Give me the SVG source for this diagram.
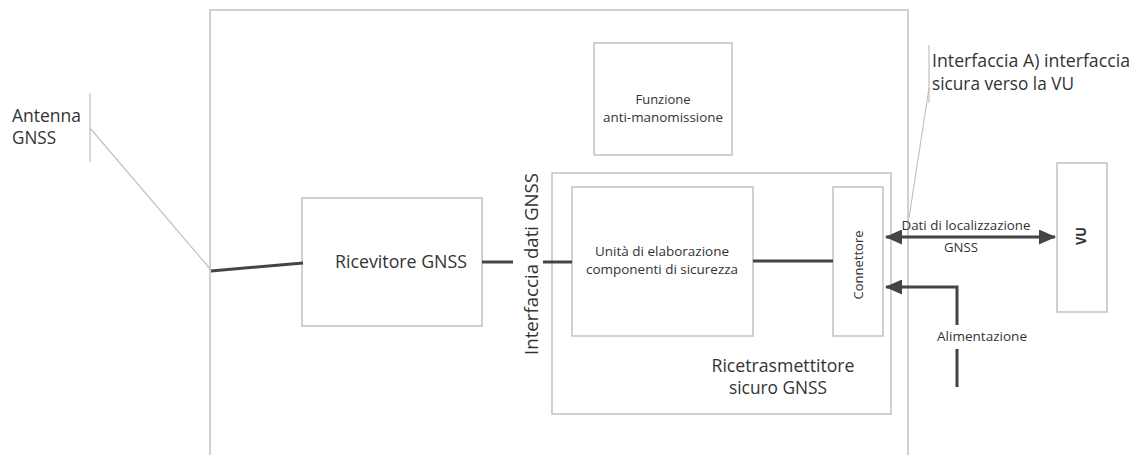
<svg xmlns="http://www.w3.org/2000/svg" width="1140" height="455" viewBox="0 0 1140 455">
<defs>
<style>
.box{fill:#fff;stroke:#c2c2c2;stroke-width:1.5}
.thin{fill:none;stroke:#c2c2c2;stroke-width:1.2}
.wire{fill:none;stroke:#444;stroke-width:3}
text{font-family:"Open Sans","Liberation Sans",sans-serif;fill:#333}
.c{text-anchor:middle}
</style>
<marker id="ah" viewBox="0 0 17 15" refX="16" refY="7.5" markerWidth="17" markerHeight="15" markerUnits="userSpaceOnUse" orient="auto-start-reverse">
<path d="M0,0 L17,7.5 L0,15 z" fill="#444"/>
</marker>
</defs>
<rect width="1140" height="455" fill="#fff"/>

<g id="outer">
<path class="box" d="M210,460 V10 H908 V460"/>
</g>

<g id="antenna">
<line class="thin" x1="90" y1="93" x2="90" y2="162"/>
<text x="12" y="122" font-size="17.5" textLength="69" lengthAdjust="spacingAndGlyphs">Antenna</text>
<text x="12" y="144" font-size="17.5" textLength="44" lengthAdjust="spacingAndGlyphs">GNSS</text>
</g>

<g id="interfaccia-a">
<line class="thin" x1="929" y1="45" x2="929" y2="103"/>
<text x="932" y="67" font-size="17.5" textLength="198" lengthAdjust="spacingAndGlyphs">Interfaccia A) interfaccia</text>
<text x="932" y="90" font-size="17.5" textLength="142" lengthAdjust="spacingAndGlyphs">sicura verso la VU</text>
</g>

<g id="funzione">
<rect class="box" x="594" y="43" width="138" height="112"/>
<text class="c" x="663" y="104" font-size="13.5" textLength="55" lengthAdjust="spacingAndGlyphs">Funzione</text>
<text class="c" x="663" y="122" font-size="13.5" textLength="120" lengthAdjust="spacingAndGlyphs">anti-manomissione</text>
</g>

<g id="ricevitore">
<rect class="box" x="302" y="198" width="180" height="128"/>
<text class="c" x="401" y="268" font-size="18" textLength="132" lengthAdjust="spacingAndGlyphs">Ricevitore GNSS</text>
</g>

<g id="interfaccia-dati">
<text class="c" transform="translate(538,264) rotate(-90)" font-size="18" textLength="182" lengthAdjust="spacingAndGlyphs">Interfaccia dati GNSS</text>
</g>

<g id="ricetrasmettitore">
<rect class="box" x="552" y="173" width="339" height="241"/>
<text class="c" x="783" y="372" font-size="18" textLength="143" lengthAdjust="spacingAndGlyphs">Ricetrasmettitore</text>
<text class="c" x="778" y="394" font-size="18" textLength="98" lengthAdjust="spacingAndGlyphs">sicuro GNSS</text>
</g>

<g id="unita">
<rect class="box" x="572" y="187" width="181" height="149"/>
<text class="c" x="662" y="256" font-size="13.5" textLength="134" lengthAdjust="spacingAndGlyphs">Unità di elaborazione</text>
<text class="c" x="662" y="274" font-size="13.5" textLength="152" lengthAdjust="spacingAndGlyphs">componenti di sicurezza</text>
</g>

<g id="connettore">
<rect class="box" x="833" y="187" width="50" height="149"/>
<text class="c" transform="translate(863,265) rotate(-90)" font-size="13.5" textLength="69" lengthAdjust="spacingAndGlyphs">Connettore</text>
</g>

<g id="vu">
<rect class="box" x="1057" y="163" width="50" height="149"/>
<text class="c" transform="translate(1086,236) rotate(-90)" font-size="14" font-weight="bold" textLength="18" lengthAdjust="spacingAndGlyphs">VU</text>
</g>

<g id="connectors">
<line class="thin" x1="90" y1="128" x2="211" y2="270"/>
<line class="thin" x1="929" y1="88" x2="909" y2="218"/>
<line class="wire" x1="211" y1="271" x2="303" y2="263"/>
<line class="wire" x1="482" y1="262" x2="513" y2="262"/>
<line class="wire" x1="543" y1="262" x2="572" y2="262"/>
<line class="wire" x1="753" y1="261" x2="833" y2="261"/>
<line class="wire" x1="886" y1="237" x2="1055" y2="237" marker-start="url(#ah)" marker-end="url(#ah)"/>
<path class="wire" d="M957,387 V349"/>
<path class="wire" d="M957,325 V287 H886" marker-end="url(#ah)"/>
<text class="c" x="966" y="230" font-size="13.5" textLength="129" lengthAdjust="spacingAndGlyphs">Dati di localizzazione</text>
<text class="c" x="961" y="252" font-size="13.5" textLength="34" lengthAdjust="spacingAndGlyphs">GNSS</text>
<text class="c" x="982" y="341" font-size="13.5" textLength="90" lengthAdjust="spacingAndGlyphs">Alimentazione</text>
</g>
</svg>
